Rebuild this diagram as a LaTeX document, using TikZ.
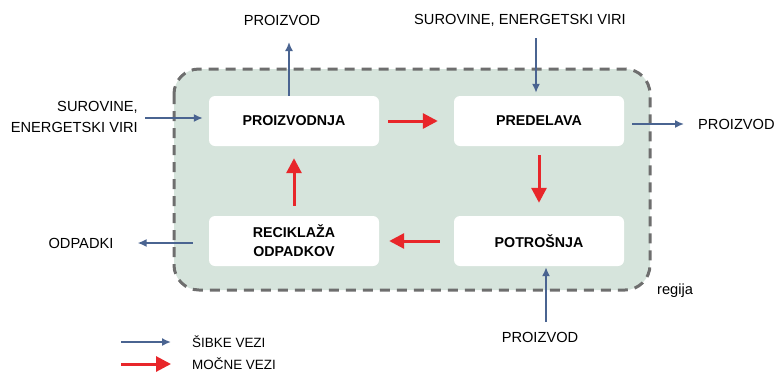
\documentclass[tikz,border=0pt]{standalone}
\usepackage{fontspec}
\setmainfont{Liberation Sans}
\usetikzlibrary{arrows.meta,positioning}
\definecolor{regfill}{HTML}{D6E4DC}
\definecolor{reggray}{HTML}{6E6E6E}
\definecolor{weakblue}{HTML}{4A6491}
\definecolor{strongred}{HTML}{E8262A}
\tikzset{
  stage/.style={fill=white, rounded corners=6bp, minimum width=170bp, minimum height=50bp, inner sep=0pt, align=center, font=\fontsize{14.3}{19}\selectfont\bfseries},
  lbl/.style={inner sep=0pt, font=\fontsize{14.7}{21}\selectfont},
  leg/.style={inner sep=0pt, anchor=west, font=\fontsize{13.5}{15}\selectfont},
  weak/.style={draw=weakblue, line width=1.6bp, -{Latex[length=9bp,width=8bp]}},
  strong/.style={draw=strongred, line width=3bp, -{Triangle[length=15bp,width=15bp]}},
}

\begin{document}
\begin{tikzpicture}[x=1bp,y=-1bp]
\useasboundingbox (0,0) rectangle (774,373);
% regija
\draw[reggray, fill=regfill, line width=3bp, dash pattern=on 10bp off 7bp, rounded corners=25bp] (174,69) rectangle (650,290);
\node[lbl, anchor=west] (regija) at (657,291) {regija};

\node[stage] (proizvodnja) at (294,121) {PROIZVODNJA};
\node[stage] (predelava) at (539,121) {PREDELAVA};
\node[stage] (reciklaza) at (294,241) {RECIKLAŽA\\ODPADKOV};
\node[stage] (potrosnja) at (539,241) {POTROŠNJA};

\node[lbl] (proizvodtop) at (282,20) {PROIZVOD};
\node[lbl] (surovinetop) at (520,20) {SUROVINE, ENERGETSKI VIRI};
\node[lbl, anchor=east, align=right] (surovineleft) at (138,117) {SUROVINE,\\ENERGETSKI VIRI};
\node[lbl, anchor=west] (proizvodright) at (698,124) {PROIZVOD};
\node[lbl] (odpadki) at (81,243) {ODPADKI};
\node[lbl] (proizvodbottom) at (540,337) {PROIZVOD};

\coordinate (ptop) at (289,42);
\coordinate (stop) at (536,38);
\coordinate (sleft) at (145,118);
\coordinate (pbot) at (546,322);

% sibke vezi
\draw[weak] (proizvodnja.north -| ptop) -- (ptop);
\draw[weak, shorten >=3bp] (stop) -- (stop |- predelava.north);
\draw[weak, shorten >=6bp] (sleft) -- (sleft -| proizvodnja.west);
\draw[weak, shorten <=8bp, shorten >=14bp] (predelava.east |- proizvodright.west) -- (proizvodright.west);
\draw[weak, shorten <=16bp, shorten >=24bp] (reciklaza.west |- odpadki.east) -- (odpadki.east);
\draw[weak, shorten >=1bp] (pbot) -- (pbot |- potrosnja.south);

% mocne vezi
\draw[strong, shorten <=9bp, shorten >=16bp] (proizvodnja) -- (predelava);
\draw[strong, shorten <=9bp, shorten >=13bp] (predelava) -- (potrosnja);
\draw[strong, shorten <=14bp, shorten >=10bp] (potrosnja) -- (reciklaza);
\draw[strong, shorten <=10bp, shorten >=12bp] (reciklaza) -- (proizvodnja);

% legenda
\node[leg] (sibke) at (192,342) {ŠIBKE VEZI};
\node[leg] (mocne) at (192,364) {MOČNE VEZI};
\coordinate (legweak) at (121,342);
\coordinate (legstrong) at (121,364);
\draw[weak, shorten >=21bp] (legweak) -- (legweak -| sibke.west);
\draw[strong, shorten >=21bp] (legstrong) -- (legstrong -| mocne.west);
\end{tikzpicture}
\end{document}
